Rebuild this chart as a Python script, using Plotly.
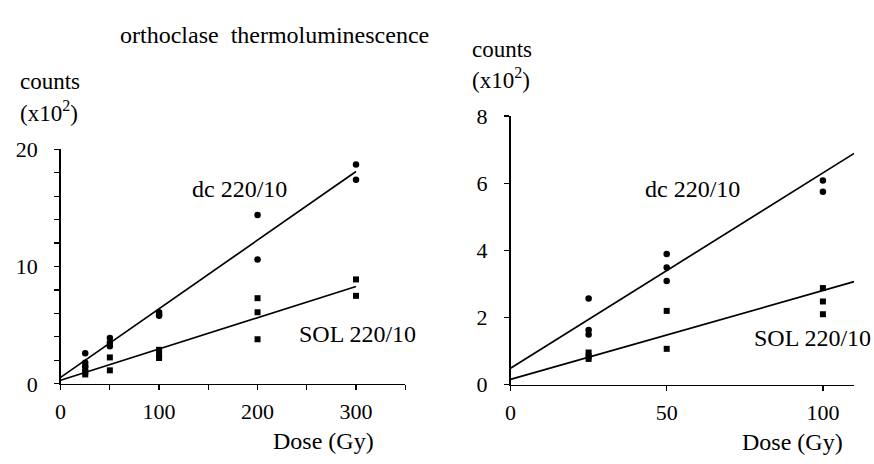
import plotly.graph_objects as go

# ---------------- data (left panel: 0-300 Gy) ----------------
left_dc_dose = [25, 25, 25, 50, 50, 50, 100, 100, 100, 200, 200, 300, 300]
left_dc_counts = [2.6, 1.8, 1.5, 3.9, 3.5, 3.2, 6.1, 5.9, 5.8, 14.4, 10.6, 18.7, 17.4]
left_sol_dose = [25, 25, 25, 50, 50, 100, 100, 100, 200, 200, 200, 300, 300]
left_sol_counts = [1.3, 1.0, 0.8, 2.25, 1.15, 2.9, 2.5, 2.2, 7.3, 6.1, 3.8, 8.9, 7.5]
left_fit_dose = [0, 300]
left_dc_fit = [0.55, 18.1]
left_sol_fit = [0.3, 8.3]

# ---------------- data (right panel: 0-100 Gy) ----------------
right_dc_dose = [25, 25, 25, 50, 50, 50, 100, 100]
right_dc_counts = [2.57, 1.63, 1.5, 3.89, 3.49, 3.09, 6.08, 5.75]
right_sol_dose = [25, 25, 25, 50, 50, 100, 100, 100]
right_sol_counts = [0.96, 0.85, 0.77, 2.2, 1.07, 2.88, 2.48, 2.10]
right_fit_dose = [0, 110]
right_dc_fit = [0.49, 6.89]
right_sol_fit = [0.16, 3.07]

left_xticks = [0, 100, 200, 300]
left_xminor = [50, 150, 250, 350]
left_yticks = [0, 10, 20]
left_yminor = [2, 4, 6, 8, 12, 14, 16, 18]
right_xticks = [0, 50, 100]
right_yticks = [0, 2, 4, 6, 8]

W, H = 874, 464
FONT = "Liberation Serif"
FS_TICK = 22
FS_TEXT = 24

fig = go.Figure()

def add_panel(xa, ya, dc_x, dc_y, sol_x, sol_y, fx, fdc, fsol):
    fig.add_trace(go.Scatter(x=fx, y=fdc, mode="lines", line=dict(color="black", width=1.7),
                             xaxis=xa, yaxis=ya, cliponaxis=False, hoverinfo="skip"))
    fig.add_trace(go.Scatter(x=fx, y=fsol, mode="lines", line=dict(color="black", width=1.7),
                             xaxis=xa, yaxis=ya, cliponaxis=False, hoverinfo="skip"))
    fig.add_trace(go.Scatter(x=dc_x, y=dc_y, mode="markers",
                             marker=dict(symbol="circle", size=6.5, color="black"),
                             xaxis=xa, yaxis=ya, cliponaxis=False))
    fig.add_trace(go.Scatter(x=sol_x, y=sol_y, mode="markers",
                             marker=dict(symbol="square", size=6, color="black"),
                             xaxis=xa, yaxis=ya, cliponaxis=False))

add_panel("x", "y", left_dc_dose, left_dc_counts, left_sol_dose, left_sol_counts,
          left_fit_dose, left_dc_fit, left_sol_fit)
add_panel("x2", "y2", right_dc_dose, right_dc_counts, right_sol_dose, right_sol_counts,
          right_fit_dose, right_dc_fit, right_sol_fit)

axis_common = dict(showline=True, linecolor="black", linewidth=1.5, ticks="outside",
                   ticklen=5, tickwidth=1.2, tickcolor="black", showgrid=False,
                   zeroline=False, tickfont=dict(family=FONT, size=FS_TICK, color="black"),
                   fixedrange=True)

def minor(vals):
    return dict(tickvals=vals, ticks="outside", ticklen=5, tickwidth=1.2,
                tickcolor="black", showgrid=False)

fig.update_layout(
    width=W, height=H,
    margin=dict(l=0, r=0, t=0, b=0),
    paper_bgcolor="white", plot_bgcolor="white",
    showlegend=False,
    font=dict(family=FONT, size=FS_TICK, color="black"),
    xaxis=dict(domain=[55 / W, 402 / W], range=[0, 350], anchor="y",
               tickvals=left_xticks, minor=minor(left_xminor),
               ticklabelstandoff=2, **axis_common),
    yaxis=dict(domain=[(H - 393) / H, (H - 145) / H], range=[0, 20], anchor="x",
               tickvals=left_yticks, minor=minor(left_yminor),
               ticklabelstandoff=12, **axis_common),
    xaxis2=dict(domain=[508 / W, 854 / W], range=[0, 110], anchor="y2",
                tickvals=right_xticks, ticklabelstandoff=2, **axis_common),
    yaxis2=dict(domain=[(H - 394) / H, (H - 110) / H], range=[0, 8], anchor="x2",
                tickvals=right_yticks, ticklabelstandoff=12, **axis_common),
)

def txt(text, x, y, xanchor="left", xref="paper", yref="paper", size=FS_TEXT):
    fig.add_annotation(text=text, x=x, y=y, xref=xref, yref=yref, showarrow=False,
                       xanchor=xanchor, yanchor="middle",
                       font=dict(family=FONT, size=size, color="black"))

# title
txt("orthoclase  thermoluminescence", 270 / W, 1 - 24 / H, xanchor="center")
# y-axis titles
txt("counts", 12 / W, 1 - 73 / H, size=23)
txt("(x10<sup>2</sup>)", 12 / W, 1 - 105 / H, size=23)
txt("counts", 467 / W, 1 - 40 / H, size=23)
txt("(x10<sup>2</sup>)", 467 / W, 1 - 70 / H, size=23)
# x-axis titles
txt("Dose (Gy)", 320 / W, 1 - 453 / H, xanchor="center")
txt("Dose (Gy)", 792 / W, 1 - 454 / H, xanchor="center")
# series labels (data coordinates)
txt("dc 220/10", 182, 16.6, xanchor="center", xref="x", yref="y")
txt("SOL 220/10", 302, 4.27, xanchor="center", xref="x", yref="y")
txt("dc 220/10", 58.4, 5.83, xanchor="center", xref="x2", yref="y2")
txt("SOL 220/10", 96.7, 1.38, xanchor="center", xref="x2", yref="y2")

fig.write_html("out.html", config={"displayModeBar": False, "staticPlot": True},
               post_script="document.body.style.margin='0';document.body.style.overflow='hidden';")
